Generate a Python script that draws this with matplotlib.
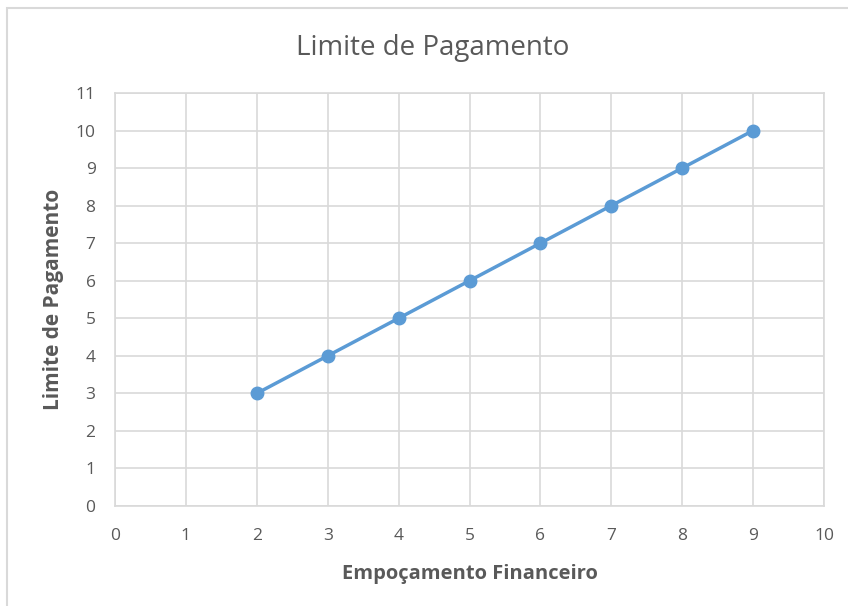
import matplotlib
matplotlib.use("Agg")
import matplotlib.pyplot as plt
from matplotlib.patches import Rectangle

plt.rcParams['font.family'] = ['Open Sans', 'DejaVu Sans']

x_vals = [2, 3, 4, 5, 6, 7, 8, 9]
y_vals = [3, 4, 5, 6, 7, 8, 9, 10]
x_ticks = list(range(0, 11))
y_ticks = list(range(0, 12))

title = "Limite de Pagamento"
x_label = "Empoçamento Financeiro"
y_label = "Limite de Pagamento"

txt = "#595959"
grid_c = "#D9D9D9"
line_c = "#5B9BD5"

fig = plt.figure(figsize=(8.48, 6.06), dpi=100)
top_y = 1 - 8/606
fig.patches.append(Rectangle((7/848, -0.1), 1.2, top_y + 0.1, transform=fig.transFigure,
                             fill=False, edgecolor=grid_c, linewidth=1.5))
ax = fig.add_axes([115/848, 1 - 506/606, (824 - 115)/848, (506 - 93)/606])

ax.plot(x_vals, y_vals, color=line_c, linewidth=2.5, marker='o', markersize=9,
        markerfacecolor=line_c, markeredgecolor=line_c, zorder=3)

ax.set_xlim(0, 10)
ax.set_ylim(0, 11)
ax.set_xticks(x_ticks)
ax.set_yticks(y_ticks)
ax.grid(True, color=grid_c, linewidth=1.2)
ax.set_axisbelow(True)
for s in ax.spines.values():
    s.set_color(grid_c)
    s.set_linewidth(1.2)
ax.tick_params(length=0, labelsize=12.5, colors=txt)
ax.tick_params(axis='x', pad=16)
ax.tick_params(axis='y', pad=14)

ax.set_xlabel(x_label, fontsize=14.5, fontweight='bold', color=txt, labelpad=14)
ax.set_ylabel(y_label, fontsize=15, fontweight='bold', color=txt, labelpad=8)
fig.text(433/848, 1 - 48/606, title, ha='center', va='center', fontsize=20, color=txt)

fig.savefig("out.png", dpi=100)
